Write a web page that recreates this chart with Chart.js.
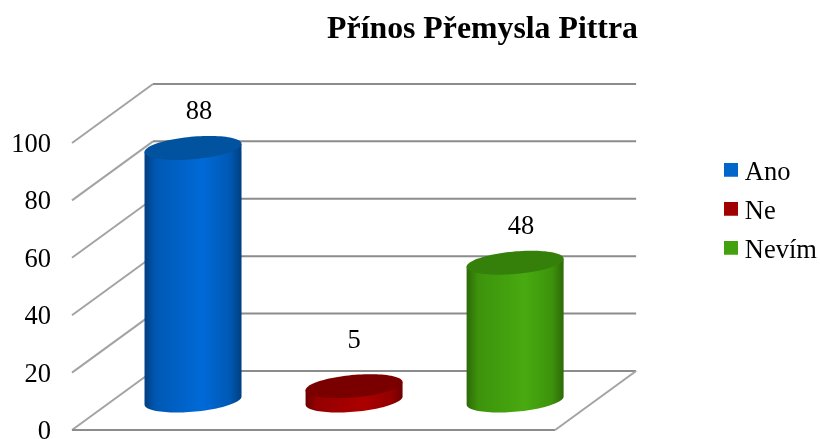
<!DOCTYPE html>
<html>
<head>
<meta charset="utf-8">
<style>html,body{margin:0;padding:0;background:#fff}canvas{display:block}</style>
<script src="https://cdn.jsdelivr.net/npm/chart.js@4"></script>
</head>
<body>
<canvas id="c" width="820" height="439"></canvas>
<script>
const chartTitle = 'Přínos Přemysla Pittra';
const categories = ['Ano', 'Ne', 'Nevím'];
const values = [88, 5, 48];
const legendColors = ['#0066cc', '#a00000', '#43a00e'];
const topColors = ['#01539f', '#7a0000', '#35800a'];
const edgeColors = ['#013f80', '#6d0000', '#2c6a08'];
const midColors = ['#006ad8', '#ac0000', '#48aa10'];
const shadeColors = ['#0058b4', '#940000', '#3d930c'];
const serif = '"Liberation Serif", "Times New Roman", serif';

const DEPTH_X = 81, DEPTH_Y = 59, GRID = '#8c8c8c', GRID_DIAG = '#a3a3a3';

function swatch(color) {
  const s = document.createElement('canvas');
  s.width = 14; s.height = 20;
  const g = s.getContext('2d');
  g.fillStyle = color; g.fillRect(0, 0, 14, 14);
  return s;
}
function ellipsePoints(cx, cy, halfW) {
  const ky = 12, kx = ky * DEPTH_X / DEPTH_Y;
  const rx = Math.sqrt(halfW * halfW - kx * kx);
  const pts = [];
  for (let i = 0; i < 96; i++) {
    const t = i / 96 * Math.PI * 2;
    pts.push([cx + rx * Math.cos(t) + kx * Math.sin(t), cy - ky * Math.sin(t)]);
  }
  return pts;
}
function trace(ctx, pts) {
  ctx.beginPath();
  pts.forEach((p, i) => i ? ctx.lineTo(p[0], p[1]) : ctx.moveTo(p[0], p[1]));
  ctx.closePath();
}
function line(ctx, color, pts) {
  ctx.beginPath();
  ctx.strokeStyle = color;
  ctx.lineWidth = 2;
  pts.forEach((p, i) => i ? ctx.lineTo(p[0], p[1]) : ctx.moveTo(p[0], p[1]));
  ctx.stroke();
}

const stagePlugin = {
  id: 'stage',
  afterLayout(chart) {
    const t = chart.titleBlock;
    t.left = 182.5; t.right = 782.5;
    const l = chart.legend, w = l.width;
    l.left = 718; l.right = 718 + w;
    l.top = 147; l.bottom = 147 + l.height;
    l.adjustHitBoxes();
  },
  beforeDatasetsDraw(chart) {
    const { ctx, chartArea: a, scales: { y } } = chart;
    ctx.save();
    y.ticks.forEach(tick => {
      const py = y.getPixelForValue(tick.value);
      line(ctx, GRID_DIAG, [[a.left, py], [a.left + DEPTH_X, py - DEPTH_Y]]);
      line(ctx, GRID, [[a.left + DEPTH_X, py - DEPTH_Y], [a.right + DEPTH_X, py - DEPTH_Y]]);
    });
    line(ctx, GRID, [[a.left, a.bottom], [a.right, a.bottom]]);
    line(ctx, GRID_DIAG, [[a.right, a.bottom], [a.right + DEPTH_X, a.bottom - DEPTH_Y]]);
    ctx.restore();
  },
  beforeDatasetDraw(chart, args) {
    const { ctx } = chart;
    ctx.save();
    args.meta.data.forEach((bar, i) => {
      const cx = bar.x + DEPTH_X / 2, halfW = bar.width / 2;
      const topY = bar.y - DEPTH_Y / 2, baseY = bar.base - DEPTH_Y / 2;
      const topPts = ellipsePoints(cx, topY, halfW);
      const basePts = ellipsePoints(cx, baseY, halfW);
      const g = ctx.createLinearGradient(cx - halfW, 0, cx + halfW, 0);
      g.addColorStop(0, edgeColors[i]);
      g.addColorStop(0.12, shadeColors[i]);
      g.addColorStop(0.6, midColors[i]);
      g.addColorStop(0.88, shadeColors[i]);
      g.addColorStop(1, edgeColors[i]);
      ctx.fillStyle = g;
      let iR = 0, iL = 0;
      basePts.forEach((p, k) => { if (p[0] > basePts[iR][0]) iR = k; if (p[0] < basePts[iL][0]) iL = k; });
      const hull = [topPts[iR], topPts[iL]];
      for (let k = iL; k !== iR; k = (k + 1) % 96) hull.push(basePts[k]);
      hull.push(basePts[iR]);
      trace(ctx, hull);
      ctx.fill();
      trace(ctx, topPts);
      ctx.fillStyle = topColors[i];
      ctx.fill();
    });
    ctx.restore();
    return false;
  },
  afterDatasetsDraw(chart) {
    const { ctx } = chart;
    const meta = chart.getDatasetMeta(0);
    ctx.save();
    ctx.font = '26.5px ' + serif;
    ctx.fillStyle = '#000';
    ctx.textAlign = 'center';
    ctx.textBaseline = 'middle';
    meta.data.forEach((bar, i) => {
      const tall = values[i] >= 10;
      ctx.fillText(String(values[i]), bar.x + DEPTH_X / 2 + (tall ? 6 : 0), bar.y - (tall ? 65 : 75));
    });
    ctx.restore();
  }
};

new Chart(document.getElementById('c'), {
  type: 'bar',
  data: {
    labels: categories,
    datasets: [{ data: values, backgroundColor: legendColors, categoryPercentage: 1, barPercentage: 0.6025 }]
  },
  options: {
    responsive: false,
    animation: false,
    layout: { autoPadding: false, padding: { left: 0, top: 0, right: 156, bottom: 9 } },
    plugins: {
      tooltip: { enabled: false },
      title: {
        display: true,
        text: chartTitle,
        color: '#000',
        font: { family: serif, size: 31.8, weight: 'bold', lineHeight: 1.2 },
        padding: { top: 11, bottom: 93.8 }
      },
      legend: {
        position: 'right',
        align: 'start',
        onClick: null,
        labels: {
          color: '#000',
          font: { family: serif, size: 26.5 },
          usePointStyle: true,
          pointStyleWidth: 1,
          boxHeight: 14,
          padding: 12.5,
          generateLabels: () => categories.map((c, i) => ({
            text: c, pointStyle: swatch(legendColors[i]), fillStyle: legendColors[i],
            strokeStyle: legendColors[i], lineWidth: 0, index: i, hidden: false, datasetIndex: 0
          }))
        }
      }
    },
    scales: {
      x: { display: false },
      y: {
        min: 0, max: 100,
        afterFit: s => { s.width = 72; s.paddingTop = 0; s.paddingBottom = 0; s.paddingLeft = 0; s.paddingRight = 0; },
        border: { display: false },
        grid: { display: false },
        ticks: { stepSize: 20, color: '#000', padding: 13, labelOffset: 2, font: { family: serif, size: 26.5 } }
      }
    }
  },
  plugins: [stagePlugin]
});
</script>
</body>
</html>
